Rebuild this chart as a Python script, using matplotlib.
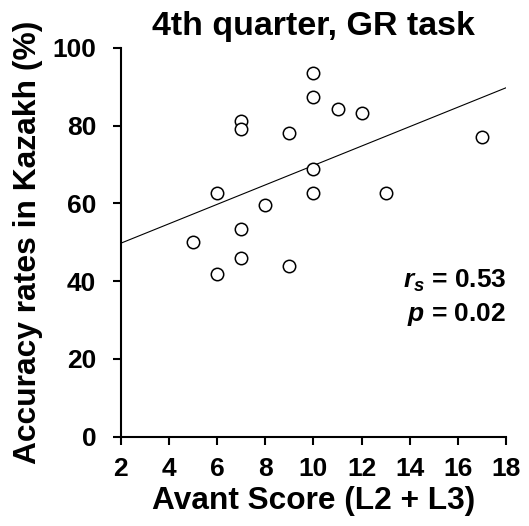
import numpy as np
import matplotlib
matplotlib.use("Agg")
import matplotlib.pyplot as plt

avant = [5, 6, 6, 7, 7, 7, 7, 8, 9, 9, 10, 10, 10, 10, 11, 12, 13, 17]
accuracy = [50.0, 62.6, 41.9, 53.3, 46.0, 81.3, 79.1, 59.6, 43.9, 78.0,
            68.8, 62.6, 93.6, 87.4, 84.3, 83.3, 62.6, 77.0]
xticks = [2, 4, 6, 8, 10, 12, 14, 16, 18]
yticks = [0, 20, 40, 60, 80, 100]

plt.rcParams['font.family'] = ['Liberation Sans', 'DejaVu Sans']
plt.rcParams['mathtext.fontset'] = 'custom'
plt.rcParams['mathtext.rm'] = 'Liberation Sans:bold'
plt.rcParams['mathtext.it'] = 'Liberation Sans:bold:italic'

fig = plt.figure(figsize=(5.29, 5.26), dpi=100)
ax = fig.add_axes([0.228, 0.170, 0.729, 0.739])

x = np.array(avant, dtype=float)
y = np.array(accuracy)
ax.scatter(x, y, s=80, facecolors='white', edgecolors='black', linewidths=1.1, zorder=3)
slope, intercept = np.polyfit(x, y, 1)
xl = np.array([2, 18])
ax.plot(xl, slope * xl + intercept, color='black', lw=0.8, zorder=2)

ax.set_xlim(2, 18)
ax.set_ylim(0, 100)
ax.set_xticks(xticks)
ax.set_yticks(yticks)
for s in ['top', 'right']:
    ax.spines[s].set_visible(False)
for s in ['left', 'bottom']:
    ax.spines[s].set_linewidth(1.5)
ax.tick_params(direction='out', length=5.5, width=1.5, labelsize=19)
ax.tick_params(axis='y', pad=12)
ax.tick_params(axis='x', pad=9)
for lab in ax.get_xticklabels() + ax.get_yticklabels():
    lab.set_fontweight('bold')

ax.set_xlabel('Avant Score (L2 + L3)', fontsize=22.8, fontweight='bold', labelpad=4)
ax.set_ylabel('Accuracy rates in Kazakh (%)', fontsize=22.9, fontweight='bold', labelpad=7)
ax.set_title('4th quarter, GR task', fontsize=24.5, fontweight='bold', pad=9)

ax.text(18.0, 38.4, r'$r_s$ = 0.53', fontsize=19, fontweight='bold', ha='right', va='baseline', clip_on=False)
ax.text(18.0, 29.8, r'$p$ = 0.02', fontsize=19, fontweight='bold', ha='right', va='baseline', clip_on=False)

fig.savefig('out.png', dpi=100)
